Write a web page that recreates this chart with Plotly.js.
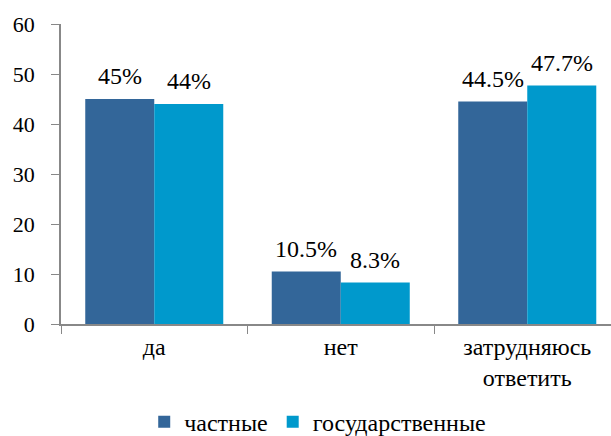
<!DOCTYPE html>
<html>
<head>
<meta charset="utf-8">
<script src="https://cdn.plot.ly/plotly-3.0.1.min.js"></script>
<style>
body{margin:0;background:#fff}
#chart text{font-family:'Liberation Serif' !important}
</style>
</head>
<body>
<div id="chart"></div>
<script>
const categories = ['да', 'нет', 'затрудняюсь<br>ответить'];
const privateVals = [45, 10.5, 44.5];
const stateVals = [44, 8.3, 47.7];
const seriesNames = ['частные', 'государственные'];

function serifFont(size) {
    return { family: 'Liberation Serif', size: size, color: 'black' };
}

const trPrivate = {
    x: categories,
    y: privateVals,
    type: 'bar',
    name: seriesNames[0],
    marker: { color: '#336699' }
};

const trState = {
    x: categories,
    y: stateVals,
    type: 'bar',
    name: seriesNames[1],
    marker: { color: '#0099cc' }
};

// подписи значений над столбцами
const annotations = [];
categories.forEach((c, i) => {
    annotations.push({ x: c, y: privateVals[i], text: privateVals[i] + '%', xshift: -34.5,
        xref: 'x', yref: 'y', showarrow: false, yanchor: 'bottom', yshift: 8, font: serifFont(24) });
    annotations.push({ x: c, y: stateVals[i], text: stateVals[i] + '%', xshift: 34.5,
        xref: 'x', yref: 'y', showarrow: false, yanchor: 'bottom', yshift: 8, font: serifFont(24) });
});

const layout = {
    width: 611,
    height: 436,
    margin: { l: 61, r: 0, t: 24, b: 112 },
    font: serifFont(24),
    barmode: 'group',
    bargap: 0.26,
    bargroupgap: 0,
    showlegend: true,
    legend: {
        orientation: 'h',
        x: 0.52, xanchor: 'center', xref: 'container',
        y: 0.032, yanchor: 'middle', yref: 'container',
        font: serifFont(24),
        itemwidth: 30,
        traceorder: 'normal'
    },
    annotations: annotations,
    xaxis: {
        range: [-0.5, 2.449],
        showline: true,
        linecolor: '#888',
        linewidth: 1.5,
        ticks: 'outside',
        tickson: 'boundaries',
        ticklen: 8,
        tickcolor: '#888',
        tickfont: serifFont(24),
        showgrid: false
    },
    yaxis: {
        range: [0, 60],
        dtick: 10,
        showline: true,
        linecolor: '#888',
        linewidth: 1.5,
        ticks: 'outside',
        ticklen: 8,
        tickcolor: '#888',
        ticklabelstandoff: 12,
        tickfont: serifFont(22),
        showgrid: false,
        zeroline: false
    },
    plot_bgcolor: '#fff',
    paper_bgcolor: '#fff'
};

Plotly.newPlot('chart', [trPrivate, trState], layout, { displayModeBar: false });
</script>
</body>
</html>
